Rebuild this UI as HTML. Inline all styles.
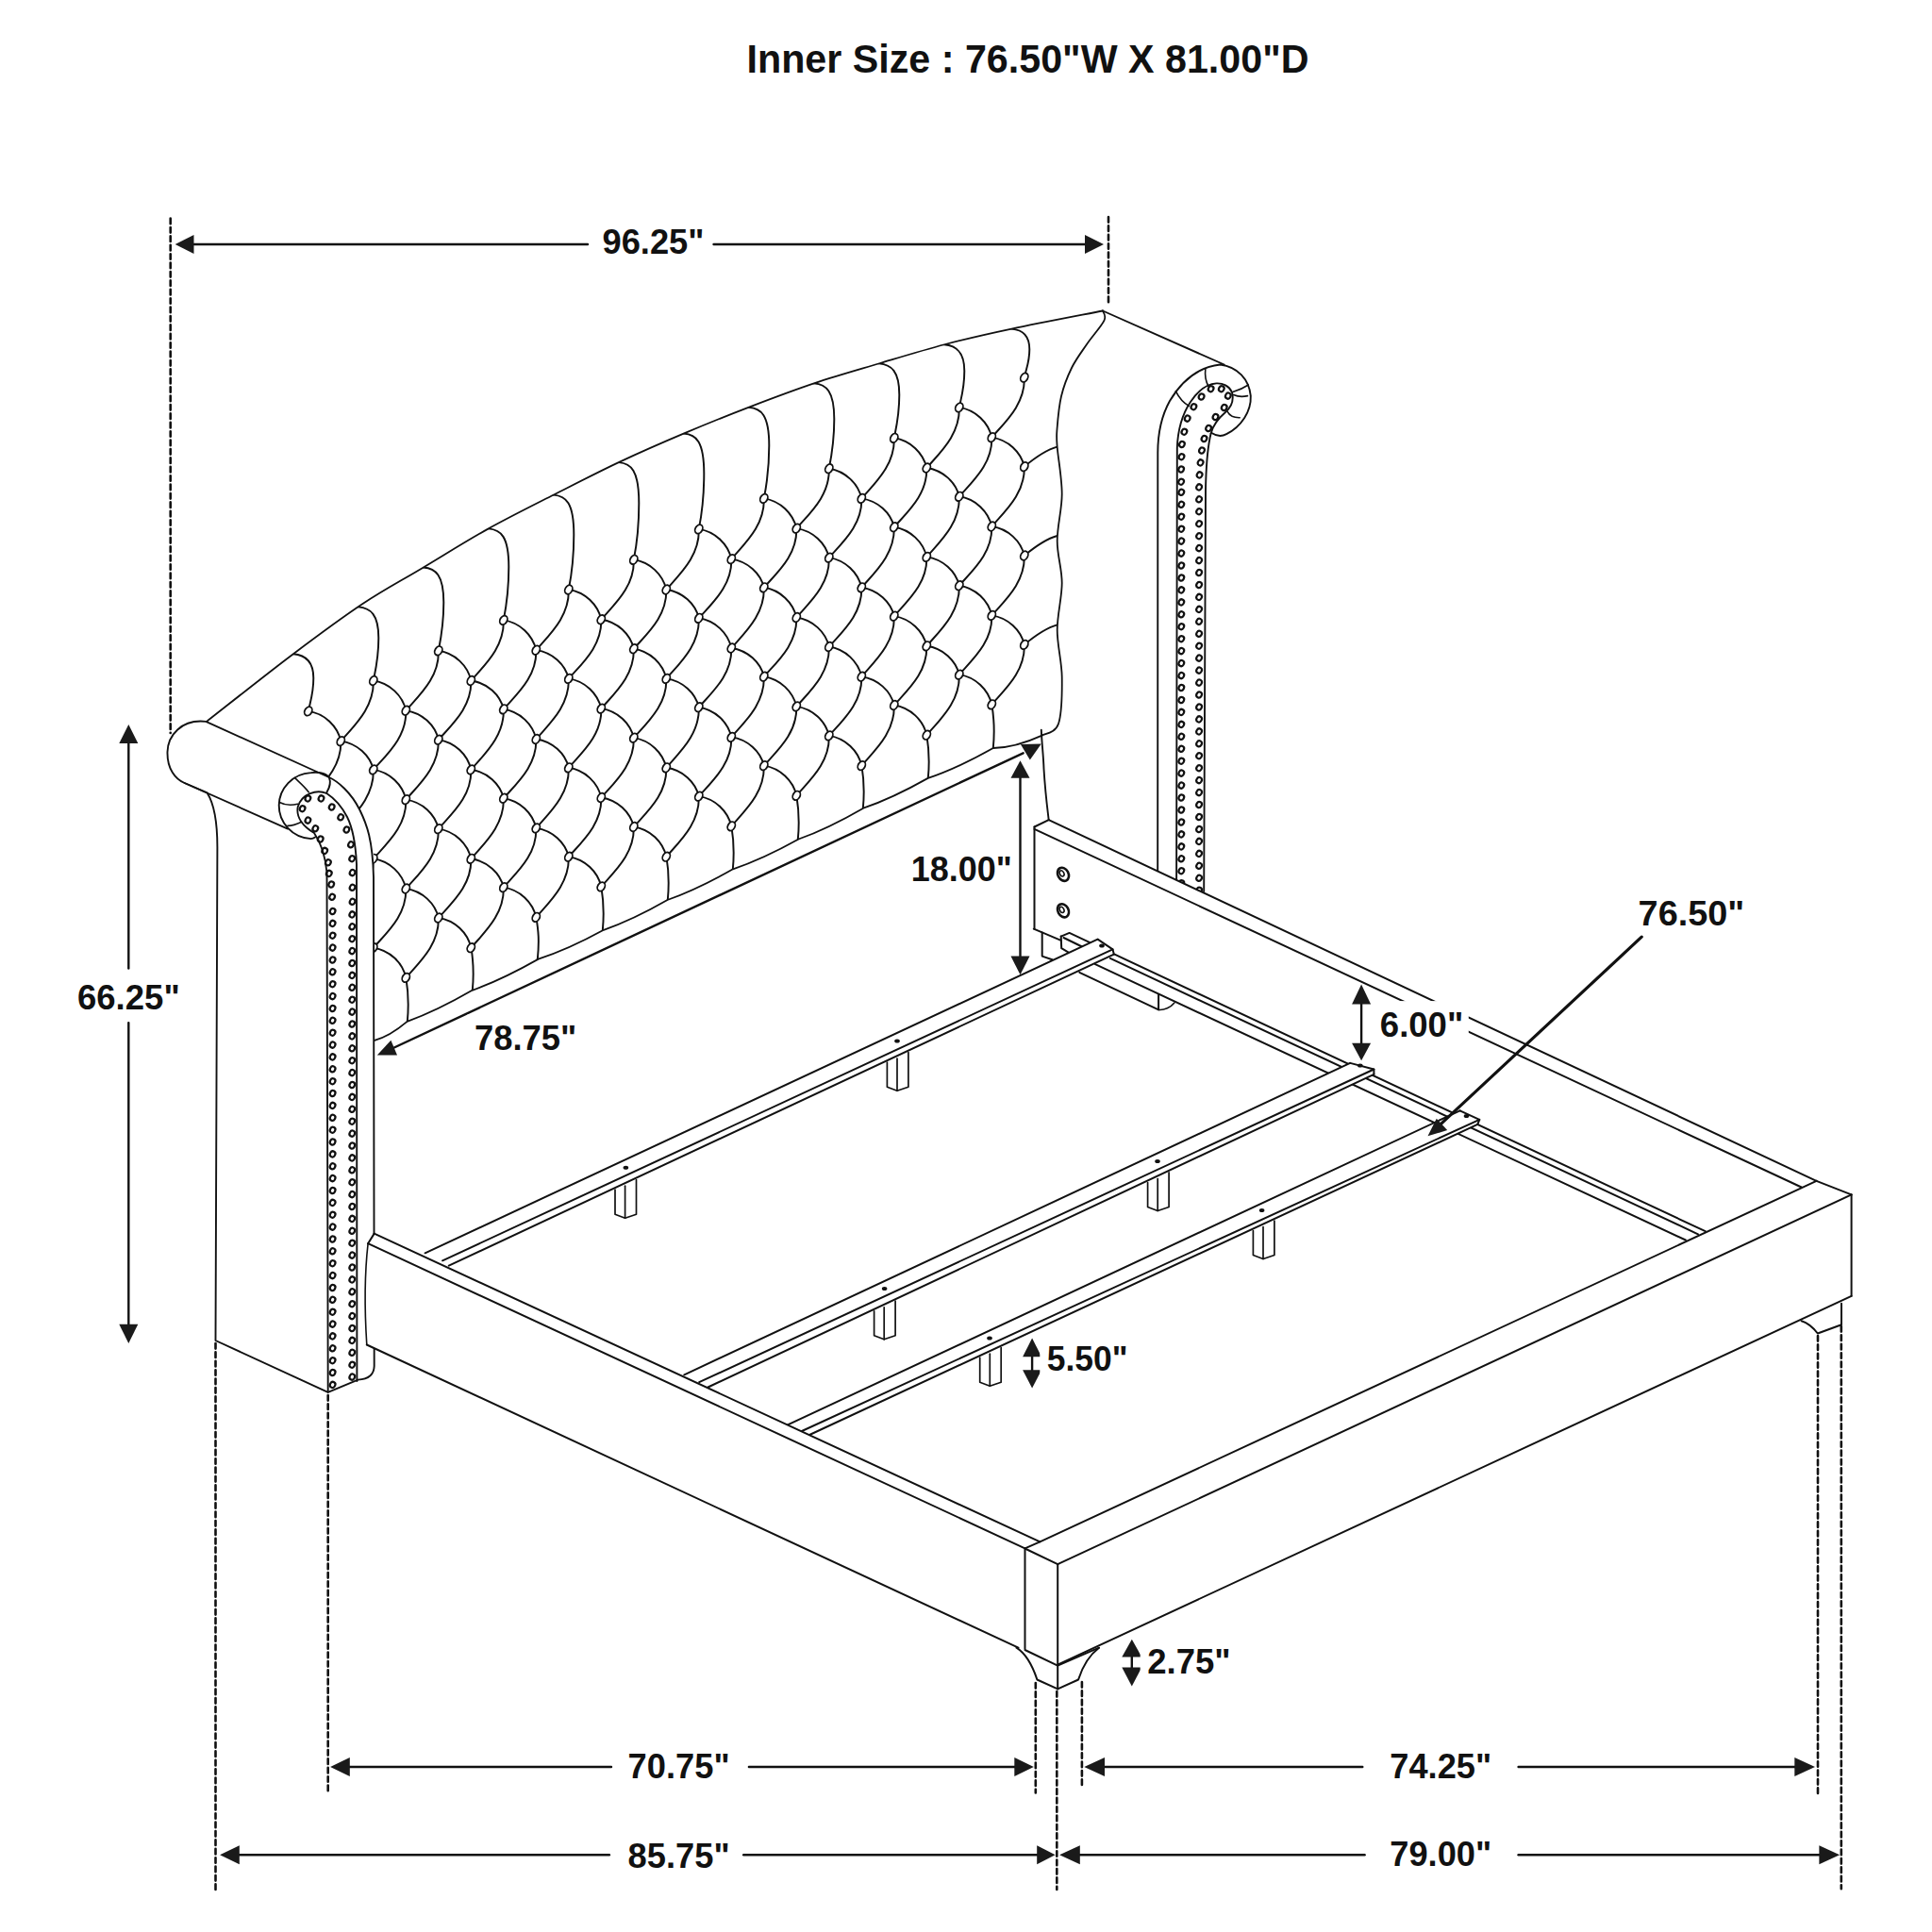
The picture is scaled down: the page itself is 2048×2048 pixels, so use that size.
<!DOCTYPE html><html><head><meta charset="utf-8"><style>html,body{margin:0;padding:0;background:#fff;width:2048px;height:2048px;overflow:hidden}svg{display:block}</style></head><body><svg width="2048" height="2048" viewBox="0 0 2048 2048" stroke-linecap="round" stroke-linejoin="round"><rect width="2048" height="2048" fill="#fff"/><clipPath id="pc"><path d="M218.5,765.2 C233.6,753.5 281.2,715.6 308.9,694.7 C336.6,673.8 361.4,655.4 384.5,640.0 C407.6,624.6 425.6,615.4 447.6,602.2 C469.6,589.1 493.1,574.1 516.5,561.1 C539.9,548.1 564.6,535.9 588.0,524.0 C611.4,512.1 633.9,500.4 656.9,489.6 C679.9,478.8 702.8,468.8 725.8,459.1 C748.8,449.4 771.7,440.1 794.7,431.3 C817.7,422.5 840.6,413.8 863.6,406.1 C886.6,398.4 909.9,391.9 933.0,385.0 C956.1,378.1 978.8,371.1 1002.0,365.0 C1025.2,358.9 1044.5,354.5 1072.3,348.6 C1100.1,342.7 1152.9,332.7 1169.0,329.5 L1170.4,339.9 L1152.0,365.0 L1136.0,390.0 L1125.0,420.0 L1120.5,455.0 L1120.7,474.0 L1125.7,523.7 L1120.7,573.4 L1125.7,618.1 L1120.7,667.8 L1125.7,717.5 L1122.0,767.2 L1104.6,779.6 L1052.8,793.0 L983.7,824.9 L915.2,856.7 L846.6,889.5 L777.0,921.3 L707.5,954.0 L639.9,985.8 L570.7,1016.6 L500.5,1049.8 L431.6,1082.9 L397.0,1102.8 L396,900 L349.5,823.2 Z"/></clipPath>
<g clip-path="url(#pc)">
<path d="M326.8,753.9 C344.1,756.4 357.9,769.8 361.3,785.6 M326.8,848.3 C344.1,850.8 357.9,864.2 361.3,880.0 M326.8,848.3 C340.6,832.6 362.3,813.8 361.3,785.6 M326.8,942.7 C344.1,945.2 357.9,958.6 361.3,974.4 M326.8,942.7 C340.6,927.0 362.3,908.2 361.3,880.0 M326.8,1037.1 C344.1,1039.6 357.9,1053.0 361.3,1068.8 M326.8,1037.1 C340.6,1021.4 362.3,1002.6 361.3,974.4 M361.3,785.6 C378.6,788.0 392.4,800.8 395.8,815.9 M361.3,785.6 C375.1,769.6 396.8,750.3 395.8,721.5 M361.3,880.0 C378.6,882.4 392.4,895.2 395.8,910.3 M361.3,880.0 C375.1,864.0 396.8,844.7 395.8,815.9 M361.3,974.4 C378.6,976.8 392.4,989.6 395.8,1004.7 M361.3,974.4 C375.1,958.4 396.8,939.1 395.8,910.3 M361.3,1068.8 C375.1,1052.8 396.8,1033.5 395.8,1004.7 M395.8,721.5 C413.1,724.0 426.9,737.4 430.3,753.2 M395.8,815.9 C413.1,818.4 426.9,831.8 430.3,847.6 M395.8,815.9 C409.6,800.2 431.3,781.4 430.3,753.2 M395.8,910.3 C413.1,912.8 426.9,926.1 430.3,942.0 M395.8,910.3 C409.6,894.6 431.3,875.8 430.3,847.6 M395.8,1004.7 C413.1,1007.2 426.9,1020.5 430.3,1036.4 M395.8,1004.7 C409.6,989.0 431.3,970.2 430.3,942.0 M430.3,753.2 C447.6,755.7 461.4,768.7 464.8,784.2 M430.3,753.2 C444.1,737.3 465.8,718.3 464.8,689.8 M430.3,847.6 C447.6,850.1 461.4,863.1 464.8,878.6 M430.3,847.6 C444.1,831.7 465.8,812.7 464.8,784.2 M430.3,942.0 C447.6,944.5 461.4,957.5 464.8,973.0 M430.3,942.0 C444.1,926.1 465.8,907.1 464.8,878.6 M430.3,1036.4 C444.1,1020.5 465.8,1001.5 464.8,973.0 M464.8,689.8 C482.1,692.3 495.9,705.6 499.3,721.5 M464.8,784.2 C482.1,786.7 495.9,800.0 499.3,815.9 M464.8,784.2 C478.6,768.5 500.3,749.7 499.3,721.5 M464.8,878.6 C482.1,881.1 495.9,894.4 499.3,910.3 M464.8,878.6 C478.6,862.9 500.3,844.1 499.3,815.9 M464.8,973.0 C482.1,975.5 495.9,988.8 499.3,1004.7 M464.8,973.0 C478.6,957.3 500.3,938.5 499.3,910.3 M499.3,721.5 C516.5,723.9 530.3,736.6 533.8,751.8 M499.3,721.5 C513.1,705.5 534.8,686.2 533.8,657.4 M499.3,815.9 C516.5,818.3 530.3,831.0 533.8,846.2 M499.3,815.9 C513.1,799.9 534.8,780.6 533.8,751.8 M499.3,910.3 C516.5,912.7 530.3,925.4 533.8,940.6 M499.3,910.3 C513.1,894.3 534.8,875.0 533.8,846.2 M499.3,1004.7 C513.1,988.7 534.8,969.4 533.8,940.6 M533.8,657.4 C551.0,659.9 564.8,673.2 568.3,689.1 M533.8,751.8 C551.0,754.3 564.8,767.6 568.3,783.5 M533.8,751.8 C547.6,736.1 569.3,717.3 568.3,689.1 M533.8,846.2 C551.0,848.7 564.8,862.0 568.3,877.9 M533.8,846.2 C547.6,830.5 569.3,811.7 568.3,783.5 M533.8,940.6 C551.0,943.1 564.8,956.4 568.3,972.3 M533.8,940.6 C547.6,924.9 569.3,906.1 568.3,877.9 M568.3,689.1 C585.5,691.5 599.3,704.2 602.8,719.4 M568.3,689.1 C582.1,673.1 603.8,653.8 602.8,625.0 M568.3,783.5 C585.5,785.9 599.3,798.6 602.8,813.8 M568.3,783.5 C582.1,767.5 603.8,748.2 602.8,719.4 M568.3,877.9 C585.5,880.3 599.3,893.0 602.8,908.2 M568.3,877.9 C582.1,861.9 603.8,842.6 602.8,813.8 M568.3,972.3 C582.1,956.3 603.8,937.0 602.8,908.2 M602.8,625.0 C620.0,627.5 633.8,640.8 637.3,656.7 M602.8,719.4 C620.0,721.9 633.8,735.2 637.3,751.1 M602.8,719.4 C616.6,703.7 638.3,684.9 637.3,656.7 M602.8,813.8 C620.0,816.3 633.8,829.6 637.3,845.5 M602.8,813.8 C616.6,798.1 638.3,779.3 637.3,751.1 M602.8,908.2 C620.0,910.7 633.8,924.0 637.3,939.9 M602.8,908.2 C616.6,892.5 638.3,873.7 637.3,845.5 M637.3,656.7 C654.5,659.1 668.3,672.2 671.8,687.7 M637.3,656.7 C651.1,640.8 672.8,621.8 671.8,593.3 M637.3,751.1 C654.5,753.5 668.3,766.6 671.8,782.1 M637.3,751.1 C651.1,735.2 672.8,716.2 671.8,687.7 M637.3,845.5 C654.5,847.9 668.3,861.0 671.8,876.5 M637.3,845.5 C651.1,829.6 672.8,810.6 671.8,782.1 M637.3,939.9 C651.1,924.0 672.8,905.0 671.8,876.5 M671.8,593.3 C689.0,595.8 702.8,609.1 706.3,625.0 M671.8,687.7 C689.0,690.2 702.8,703.5 706.3,719.4 M671.8,687.7 C685.6,672.0 707.3,653.2 706.3,625.0 M671.8,782.1 C689.0,784.6 702.8,797.9 706.3,813.8 M671.8,782.1 C685.6,766.4 707.3,747.6 706.3,719.4 M671.8,876.5 C689.0,879.0 702.8,892.3 706.3,908.2 M671.8,876.5 C685.6,860.8 707.3,842.0 706.3,813.8 M706.3,625.0 C723.5,627.4 737.3,640.1 740.8,655.3 M706.3,625.0 C720.1,608.9 741.8,589.7 740.8,560.9 M706.3,719.4 C723.5,721.8 737.3,734.5 740.8,749.7 M706.3,719.4 C720.1,703.3 741.8,684.1 740.8,655.3 M706.3,813.8 C723.5,816.2 737.3,828.9 740.8,844.1 M706.3,813.8 C720.1,797.7 741.8,778.5 740.8,749.7 M706.3,908.2 C720.1,892.1 741.8,872.9 740.8,844.1 M740.8,560.9 C758.0,563.4 771.8,576.7 775.3,592.6 M740.8,655.3 C758.0,657.8 771.8,671.1 775.3,687.0 M740.8,655.3 C754.6,639.6 776.3,620.8 775.3,592.6 M740.8,749.7 C758.0,752.2 771.8,765.5 775.3,781.4 M740.8,749.7 C754.6,734.0 776.3,715.2 775.3,687.0 M740.8,844.1 C758.0,846.6 771.8,859.9 775.3,875.8 M740.8,844.1 C754.6,828.4 776.3,809.6 775.3,781.4 M775.3,592.6 C792.5,595.0 806.3,607.7 809.8,622.8 M775.3,592.6 C789.1,576.5 810.8,557.3 809.8,528.4 M775.3,687.0 C792.5,689.4 806.3,702.1 809.8,717.2 M775.3,687.0 C789.1,670.9 810.8,651.7 809.8,622.8 M775.3,781.4 C792.5,783.8 806.3,796.5 809.8,811.6 M775.3,781.4 C789.1,765.3 810.8,746.1 809.8,717.2 M775.3,875.8 C789.1,859.7 810.8,840.5 809.8,811.6 M809.8,528.4 C827.0,531.0 840.8,544.3 844.3,560.1 M809.8,622.8 C827.0,625.4 840.8,638.7 844.3,654.5 M809.8,622.8 C823.6,607.2 845.3,588.4 844.3,560.1 M809.8,717.2 C827.0,719.8 840.8,733.1 844.3,748.9 M809.8,717.2 C823.6,701.6 845.3,682.8 844.3,654.5 M809.8,811.6 C827.0,814.2 840.8,827.5 844.3,843.3 M809.8,811.6 C823.6,796.0 845.3,777.2 844.3,748.9 M844.3,560.1 C861.5,562.6 875.3,575.6 878.8,591.1 M844.3,560.1 C858.1,544.3 879.8,525.3 878.8,496.7 M844.3,654.5 C861.5,657.0 875.3,670.0 878.8,685.5 M844.3,654.5 C858.1,638.7 879.8,619.7 878.8,591.1 M844.3,748.9 C861.5,751.4 875.3,764.4 878.8,779.9 M844.3,748.9 C858.1,733.1 879.8,714.1 878.8,685.5 M844.3,843.3 C858.1,827.5 879.8,808.5 878.8,779.9 M878.8,496.7 C896.0,499.3 909.8,512.6 913.3,528.4 M878.8,591.1 C896.0,593.7 909.8,607.0 913.3,622.8 M878.8,591.1 C892.6,575.5 914.3,556.6 913.3,528.4 M878.8,685.5 C896.0,688.1 909.8,701.4 913.3,717.2 M878.8,685.5 C892.6,669.9 914.3,651.0 913.3,622.8 M878.8,779.9 C896.0,782.5 909.8,795.8 913.3,811.6 M878.8,779.9 C892.6,764.3 914.3,745.4 913.3,717.2 M913.3,528.4 C930.5,530.9 944.3,543.6 947.8,558.7 M913.3,528.4 C927.1,512.4 948.8,493.2 947.8,464.3 M913.3,622.8 C930.5,625.3 944.3,638.0 947.8,653.1 M913.3,622.8 C927.1,606.8 948.8,587.6 947.8,558.7 M913.3,717.2 C930.5,719.7 944.3,732.4 947.8,747.5 M913.3,717.2 C927.1,701.2 948.8,682.0 947.8,653.1 M913.3,811.6 C927.1,795.6 948.8,776.4 947.8,747.5 M947.8,464.3 C965.0,466.9 978.8,480.2 982.3,496.0 M947.8,558.7 C965.0,561.3 978.8,574.6 982.3,590.4 M947.8,558.7 C961.6,543.0 983.3,524.2 982.3,496.0 M947.8,653.1 C965.0,655.7 978.8,669.0 982.3,684.8 M947.8,653.1 C961.6,637.4 983.3,618.6 982.3,590.4 M947.8,747.5 C965.0,750.1 978.8,763.4 982.3,779.2 M947.8,747.5 C961.6,731.8 983.3,713.0 982.3,684.8 M982.3,496.0 C999.5,498.4 1013.3,511.2 1016.8,526.3 M982.3,496.0 C996.1,480.0 1017.8,460.8 1016.8,431.9 M982.3,590.4 C999.5,592.8 1013.3,605.6 1016.8,620.7 M982.3,590.4 C996.1,574.4 1017.8,555.2 1016.8,526.3 M982.3,684.8 C999.5,687.2 1013.3,700.0 1016.8,715.1 M982.3,684.8 C996.1,668.8 1017.8,649.6 1016.8,620.7 M982.3,779.2 C996.1,763.2 1017.8,744.0 1016.8,715.1 M1016.8,431.9 C1034.0,434.4 1047.8,447.8 1051.3,463.6 M1016.8,526.3 C1034.0,528.8 1047.8,542.2 1051.3,558.0 M1016.8,526.3 C1030.6,510.6 1052.3,491.8 1051.3,463.6 M1016.8,620.7 C1034.0,623.2 1047.8,636.6 1051.3,652.4 M1016.8,620.7 C1030.6,605.0 1052.3,586.2 1051.3,558.0 M1016.8,715.1 C1034.0,717.6 1047.8,731.0 1051.3,746.8 M1016.8,715.1 C1030.6,699.4 1052.3,680.6 1051.3,652.4 M1051.3,463.6 C1068.5,466.1 1082.3,479.1 1085.8,494.6 M1051.3,463.6 C1065.1,447.8 1086.8,428.7 1085.8,400.2 M1051.3,558.0 C1068.5,560.5 1082.3,573.5 1085.8,589.0 M1051.3,558.0 C1065.1,542.2 1086.8,523.1 1085.8,494.6 M1051.3,652.4 C1068.5,654.9 1082.3,667.9 1085.8,683.4 M1051.3,652.4 C1065.1,636.6 1086.8,617.5 1085.8,589.0 M1051.3,746.8 C1065.1,731.0 1086.8,711.9 1085.8,683.4 M1085.8,494.6 C1097.8,484.6 1109.8,476.6 1120.7,473.6 M1085.8,589.0 C1097.8,579.0 1109.8,571.0 1120.7,568.0 M1085.8,683.4 C1097.8,673.4 1109.8,665.4 1120.7,662.4 M310.8,693.3 C323.8,694.3 332.3,701.3 332.3,718.8 C332.3,735.7 328.8,743.9 326.8,753.9 M379.8,643.4 C392.8,644.4 401.3,651.4 401.3,676.2 C401.3,698.1 397.8,711.5 395.8,721.5 M448.8,601.5 C461.8,602.5 470.3,609.5 470.3,638.6 C470.3,663.3 466.8,679.8 464.8,689.8 M517.8,560.4 C530.8,561.4 539.3,568.4 539.3,601.1 C539.3,628.3 535.8,647.4 533.8,657.4 M586.8,524.6 C599.8,525.6 608.3,532.6 608.3,566.8 C608.3,594.9 604.8,615.0 602.8,625.0 M655.8,490.1 C668.8,491.1 677.3,498.1 677.3,533.5 C677.3,562.3 673.8,583.3 671.8,593.3 M724.8,459.5 C737.8,460.5 746.3,467.5 746.3,502.1 C746.3,530.5 742.8,550.9 740.8,560.9 M793.8,431.7 C806.8,432.7 815.3,439.7 815.3,472.3 C815.3,499.4 811.8,518.4 809.8,528.4 M862.8,406.4 C875.8,407.4 884.3,414.4 884.3,444.3 C884.3,469.6 880.8,486.7 878.8,496.7 M931.8,385.4 C944.8,386.4 953.3,393.4 953.3,418.5 C953.3,440.6 949.8,454.3 947.8,464.3 M1000.8,365.3 C1013.8,366.3 1022.3,373.3 1022.3,393.3 C1022.3,411.9 1018.8,421.9 1016.8,431.9 M1072.3,348.6 C1085.3,349.6 1091.3,356.6 1091.3,370.3 C1091.3,384.7 1087.8,390.2 1085.8,400.2 M361.3,1068.5 C363.8,1083.5 364.8,1082.8 362.8,1102.8 M430.3,1036.0 C432.8,1051.0 433.8,1062.8 431.8,1082.8 M499.3,1003.6 C501.8,1018.6 502.8,1029.7 500.8,1049.7 M568.3,971.9 C570.8,986.9 571.8,997.0 569.8,1017.0 M637.3,939.5 C639.8,954.5 640.8,966.3 638.8,986.3 M706.3,907.1 C708.8,922.1 709.8,933.9 707.8,953.9 M775.3,875.4 C777.8,890.4 778.8,901.4 776.8,921.4 M844.3,843.0 C846.8,858.0 847.8,869.9 845.8,889.9 M913.3,810.6 C915.8,825.6 916.8,836.9 914.8,856.9 M982.3,778.9 C984.8,793.9 985.8,804.9 983.8,824.9 M1051.3,746.5 C1053.8,761.5 1054.8,773.0 1052.8,793.0" fill="none" stroke="#111" stroke-width="1.95"/>
<g fill="#fff" stroke="#111" stroke-width="1.8"><ellipse cx="326.8" cy="753.9" rx="3.7" ry="5.0" transform="rotate(30 326.8 753.9)"/><ellipse cx="326.8" cy="848.3" rx="3.7" ry="5.0" transform="rotate(30 326.8 848.3)"/><ellipse cx="326.8" cy="942.7" rx="3.7" ry="5.0" transform="rotate(30 326.8 942.7)"/><ellipse cx="326.8" cy="1037.1" rx="3.7" ry="5.0" transform="rotate(30 326.8 1037.1)"/><ellipse cx="361.3" cy="785.6" rx="3.7" ry="5.0" transform="rotate(30 361.3 785.6)"/><ellipse cx="361.3" cy="880.0" rx="3.7" ry="5.0" transform="rotate(30 361.3 880.0)"/><ellipse cx="361.3" cy="974.4" rx="3.7" ry="5.0" transform="rotate(30 361.3 974.4)"/><ellipse cx="361.3" cy="1068.8" rx="3.7" ry="5.0" transform="rotate(30 361.3 1068.8)"/><ellipse cx="395.8" cy="721.5" rx="3.7" ry="5.0" transform="rotate(30 395.8 721.5)"/><ellipse cx="395.8" cy="815.9" rx="3.7" ry="5.0" transform="rotate(30 395.8 815.9)"/><ellipse cx="395.8" cy="910.3" rx="3.7" ry="5.0" transform="rotate(30 395.8 910.3)"/><ellipse cx="395.8" cy="1004.7" rx="3.7" ry="5.0" transform="rotate(30 395.8 1004.7)"/><ellipse cx="430.3" cy="753.2" rx="3.7" ry="5.0" transform="rotate(30 430.3 753.2)"/><ellipse cx="430.3" cy="847.6" rx="3.7" ry="5.0" transform="rotate(30 430.3 847.6)"/><ellipse cx="430.3" cy="942.0" rx="3.7" ry="5.0" transform="rotate(30 430.3 942.0)"/><ellipse cx="430.3" cy="1036.4" rx="3.7" ry="5.0" transform="rotate(30 430.3 1036.4)"/><ellipse cx="464.8" cy="689.8" rx="3.7" ry="5.0" transform="rotate(30 464.8 689.8)"/><ellipse cx="464.8" cy="784.2" rx="3.7" ry="5.0" transform="rotate(30 464.8 784.2)"/><ellipse cx="464.8" cy="878.6" rx="3.7" ry="5.0" transform="rotate(30 464.8 878.6)"/><ellipse cx="464.8" cy="973.0" rx="3.7" ry="5.0" transform="rotate(30 464.8 973.0)"/><ellipse cx="499.3" cy="721.5" rx="3.7" ry="5.0" transform="rotate(30 499.3 721.5)"/><ellipse cx="499.3" cy="815.9" rx="3.7" ry="5.0" transform="rotate(30 499.3 815.9)"/><ellipse cx="499.3" cy="910.3" rx="3.7" ry="5.0" transform="rotate(30 499.3 910.3)"/><ellipse cx="499.3" cy="1004.7" rx="3.7" ry="5.0" transform="rotate(30 499.3 1004.7)"/><ellipse cx="533.8" cy="657.4" rx="3.7" ry="5.0" transform="rotate(30 533.8 657.4)"/><ellipse cx="533.8" cy="751.8" rx="3.7" ry="5.0" transform="rotate(30 533.8 751.8)"/><ellipse cx="533.8" cy="846.2" rx="3.7" ry="5.0" transform="rotate(30 533.8 846.2)"/><ellipse cx="533.8" cy="940.6" rx="3.7" ry="5.0" transform="rotate(30 533.8 940.6)"/><ellipse cx="568.3" cy="689.1" rx="3.7" ry="5.0" transform="rotate(30 568.3 689.1)"/><ellipse cx="568.3" cy="783.5" rx="3.7" ry="5.0" transform="rotate(30 568.3 783.5)"/><ellipse cx="568.3" cy="877.9" rx="3.7" ry="5.0" transform="rotate(30 568.3 877.9)"/><ellipse cx="568.3" cy="972.3" rx="3.7" ry="5.0" transform="rotate(30 568.3 972.3)"/><ellipse cx="602.8" cy="625.0" rx="3.7" ry="5.0" transform="rotate(30 602.8 625.0)"/><ellipse cx="602.8" cy="719.4" rx="3.7" ry="5.0" transform="rotate(30 602.8 719.4)"/><ellipse cx="602.8" cy="813.8" rx="3.7" ry="5.0" transform="rotate(30 602.8 813.8)"/><ellipse cx="602.8" cy="908.2" rx="3.7" ry="5.0" transform="rotate(30 602.8 908.2)"/><ellipse cx="637.3" cy="656.7" rx="3.7" ry="5.0" transform="rotate(30 637.3 656.7)"/><ellipse cx="637.3" cy="751.1" rx="3.7" ry="5.0" transform="rotate(30 637.3 751.1)"/><ellipse cx="637.3" cy="845.5" rx="3.7" ry="5.0" transform="rotate(30 637.3 845.5)"/><ellipse cx="637.3" cy="939.9" rx="3.7" ry="5.0" transform="rotate(30 637.3 939.9)"/><ellipse cx="671.8" cy="593.3" rx="3.7" ry="5.0" transform="rotate(30 671.8 593.3)"/><ellipse cx="671.8" cy="687.7" rx="3.7" ry="5.0" transform="rotate(30 671.8 687.7)"/><ellipse cx="671.8" cy="782.1" rx="3.7" ry="5.0" transform="rotate(30 671.8 782.1)"/><ellipse cx="671.8" cy="876.5" rx="3.7" ry="5.0" transform="rotate(30 671.8 876.5)"/><ellipse cx="706.3" cy="625.0" rx="3.7" ry="5.0" transform="rotate(30 706.3 625.0)"/><ellipse cx="706.3" cy="719.4" rx="3.7" ry="5.0" transform="rotate(30 706.3 719.4)"/><ellipse cx="706.3" cy="813.8" rx="3.7" ry="5.0" transform="rotate(30 706.3 813.8)"/><ellipse cx="706.3" cy="908.2" rx="3.7" ry="5.0" transform="rotate(30 706.3 908.2)"/><ellipse cx="740.8" cy="560.9" rx="3.7" ry="5.0" transform="rotate(30 740.8 560.9)"/><ellipse cx="740.8" cy="655.3" rx="3.7" ry="5.0" transform="rotate(30 740.8 655.3)"/><ellipse cx="740.8" cy="749.7" rx="3.7" ry="5.0" transform="rotate(30 740.8 749.7)"/><ellipse cx="740.8" cy="844.1" rx="3.7" ry="5.0" transform="rotate(30 740.8 844.1)"/><ellipse cx="775.3" cy="592.6" rx="3.7" ry="5.0" transform="rotate(30 775.3 592.6)"/><ellipse cx="775.3" cy="687.0" rx="3.7" ry="5.0" transform="rotate(30 775.3 687.0)"/><ellipse cx="775.3" cy="781.4" rx="3.7" ry="5.0" transform="rotate(30 775.3 781.4)"/><ellipse cx="775.3" cy="875.8" rx="3.7" ry="5.0" transform="rotate(30 775.3 875.8)"/><ellipse cx="809.8" cy="528.4" rx="3.7" ry="5.0" transform="rotate(30 809.8 528.4)"/><ellipse cx="809.8" cy="622.8" rx="3.7" ry="5.0" transform="rotate(30 809.8 622.8)"/><ellipse cx="809.8" cy="717.2" rx="3.7" ry="5.0" transform="rotate(30 809.8 717.2)"/><ellipse cx="809.8" cy="811.6" rx="3.7" ry="5.0" transform="rotate(30 809.8 811.6)"/><ellipse cx="844.3" cy="560.1" rx="3.7" ry="5.0" transform="rotate(30 844.3 560.1)"/><ellipse cx="844.3" cy="654.5" rx="3.7" ry="5.0" transform="rotate(30 844.3 654.5)"/><ellipse cx="844.3" cy="748.9" rx="3.7" ry="5.0" transform="rotate(30 844.3 748.9)"/><ellipse cx="844.3" cy="843.3" rx="3.7" ry="5.0" transform="rotate(30 844.3 843.3)"/><ellipse cx="878.8" cy="496.7" rx="3.7" ry="5.0" transform="rotate(30 878.8 496.7)"/><ellipse cx="878.8" cy="591.1" rx="3.7" ry="5.0" transform="rotate(30 878.8 591.1)"/><ellipse cx="878.8" cy="685.5" rx="3.7" ry="5.0" transform="rotate(30 878.8 685.5)"/><ellipse cx="878.8" cy="779.9" rx="3.7" ry="5.0" transform="rotate(30 878.8 779.9)"/><ellipse cx="913.3" cy="528.4" rx="3.7" ry="5.0" transform="rotate(30 913.3 528.4)"/><ellipse cx="913.3" cy="622.8" rx="3.7" ry="5.0" transform="rotate(30 913.3 622.8)"/><ellipse cx="913.3" cy="717.2" rx="3.7" ry="5.0" transform="rotate(30 913.3 717.2)"/><ellipse cx="913.3" cy="811.6" rx="3.7" ry="5.0" transform="rotate(30 913.3 811.6)"/><ellipse cx="947.8" cy="464.3" rx="3.7" ry="5.0" transform="rotate(30 947.8 464.3)"/><ellipse cx="947.8" cy="558.7" rx="3.7" ry="5.0" transform="rotate(30 947.8 558.7)"/><ellipse cx="947.8" cy="653.1" rx="3.7" ry="5.0" transform="rotate(30 947.8 653.1)"/><ellipse cx="947.8" cy="747.5" rx="3.7" ry="5.0" transform="rotate(30 947.8 747.5)"/><ellipse cx="982.3" cy="496.0" rx="3.7" ry="5.0" transform="rotate(30 982.3 496.0)"/><ellipse cx="982.3" cy="590.4" rx="3.7" ry="5.0" transform="rotate(30 982.3 590.4)"/><ellipse cx="982.3" cy="684.8" rx="3.7" ry="5.0" transform="rotate(30 982.3 684.8)"/><ellipse cx="982.3" cy="779.2" rx="3.7" ry="5.0" transform="rotate(30 982.3 779.2)"/><ellipse cx="1016.8" cy="431.9" rx="3.7" ry="5.0" transform="rotate(30 1016.8 431.9)"/><ellipse cx="1016.8" cy="526.3" rx="3.7" ry="5.0" transform="rotate(30 1016.8 526.3)"/><ellipse cx="1016.8" cy="620.7" rx="3.7" ry="5.0" transform="rotate(30 1016.8 620.7)"/><ellipse cx="1016.8" cy="715.1" rx="3.7" ry="5.0" transform="rotate(30 1016.8 715.1)"/><ellipse cx="1051.3" cy="463.6" rx="3.7" ry="5.0" transform="rotate(30 1051.3 463.6)"/><ellipse cx="1051.3" cy="558.0" rx="3.7" ry="5.0" transform="rotate(30 1051.3 558.0)"/><ellipse cx="1051.3" cy="652.4" rx="3.7" ry="5.0" transform="rotate(30 1051.3 652.4)"/><ellipse cx="1051.3" cy="746.8" rx="3.7" ry="5.0" transform="rotate(30 1051.3 746.8)"/><ellipse cx="1085.8" cy="400.2" rx="3.7" ry="5.0" transform="rotate(30 1085.8 400.2)"/><ellipse cx="1085.8" cy="494.6" rx="3.7" ry="5.0" transform="rotate(30 1085.8 494.6)"/><ellipse cx="1085.8" cy="589.0" rx="3.7" ry="5.0" transform="rotate(30 1085.8 589.0)"/><ellipse cx="1085.8" cy="683.4" rx="3.7" ry="5.0" transform="rotate(30 1085.8 683.4)"/></g>
</g>
<path d="M218.5,765.2 C233.6,753.5 281.2,715.6 308.9,694.7 C336.6,673.8 361.4,655.4 384.5,640.0 C407.6,624.6 425.6,615.4 447.6,602.2 C469.6,589.1 493.1,574.1 516.5,561.1 C539.9,548.1 564.6,535.9 588.0,524.0 C611.4,512.1 633.9,500.4 656.9,489.6 C679.9,478.8 702.8,468.8 725.8,459.1 C748.8,449.4 771.7,440.1 794.7,431.3 C817.7,422.5 840.6,413.8 863.6,406.1 C886.6,398.4 909.9,391.9 933.0,385.0 C956.1,378.1 978.8,371.1 1002.0,365.0 C1025.2,358.9 1044.5,354.5 1072.3,348.6 C1100.1,342.7 1152.9,332.7 1169.0,329.5" fill="none" stroke="#111" stroke-width="1.8" />
<path d="M1169.0,329.5 C1169.2,331.2 1173.2,334.0 1170.4,339.9 C1167.6,345.8 1157.7,356.6 1152.0,365.0 C1146.3,373.4 1140.5,380.8 1136.0,390.0 C1131.5,399.2 1127.6,409.2 1125.0,420.0 C1122.4,430.8 1121.2,446.0 1120.5,455.0 C1119.8,464.0 1119.8,462.6 1120.7,474.0 C1121.6,485.4 1125.7,507.1 1125.7,523.7 C1125.7,540.3 1120.7,557.7 1120.7,573.4 C1120.7,589.1 1125.7,602.4 1125.7,618.1 C1125.7,633.8 1120.7,651.2 1120.7,667.8 C1120.7,684.4 1125.5,700.9 1125.7,717.5 C1125.9,734.1 1125.5,756.9 1122.0,767.2 C1118.5,777.6 1107.5,777.5 1104.6,779.6" fill="none" stroke="#111" stroke-width="1.8" />
<path d="M397,1102.8 Q412.6,1098.9 431.6,1082.9 Q462.6,1071.7 500.5,1049.8 Q532.1,1038.5 570.7,1016.6 Q601.8,1006.7 639.9,985.8 Q670.3,975.3 707.5,954.0 Q738.8,943.0 777.0,921.3 Q808.3,910.8 846.6,889.5 Q877.5,878.5 915.2,856.7 Q946.0,846.2 983.7,824.9 Q1014.8,814.4 1052.8,793.0 Q1076.1,792.6 1104.6,779.6" fill="none" stroke="#111" stroke-width="1.8" />
<path d="M1169,329.5 L1297.7,386.5 C1312,389 1324,402 1325.8,419.6 C1326,436 1316,452 1300.1,460.2 C1293,463 1288,461 1283.6,459.4 L1276.2,946 L1227.2,921.5 L1227.3,476 C1228,450 1236,425 1252,409 C1262,398 1275,391 1293.5,386.5" fill="#fff" stroke="#111" stroke-width="0" />
<path d="M1169,329.5 L1297.7,386.5" fill="none" stroke="#111" stroke-width="1.9" />
<path d="M1293.5,386.5 C1312,389 1324,402 1325.8,419.6 C1326.5,436 1316,452 1300.1,460.2 C1294,463.5 1289,462 1284.5,459" fill="none" stroke="#111" stroke-width="1.9" />
<path d="M1293.5,386.5 C1270,389 1252,405 1240,425 C1230,443 1227.3,460 1227.3,480 L1227.2,925" fill="none" stroke="#111" stroke-width="1.9" />
<path d="M1283.6,459.4 C1286,450 1292,443 1299,437 C1306,431 1308,424 1306,416 C1303,409 1296,406 1289.4,406.4 C1280,407 1270,414 1262,426 C1254,438 1248.5,455 1247.8,475 L1247.1,945" fill="none" stroke="#111" stroke-width="1.9" />
<path d="M1283.6,459.4 C1281,470 1278.5,490 1278,520 L1276.2,945" fill="none" stroke="#111" stroke-width="1.9" />
<path d="M1277.8,391.5 C1277,398 1278,404 1281.1,409.7" fill="none" stroke="#111" stroke-width="1.6" />
<path d="M1246.3,414.7 C1250,422 1254,427 1260.4,430.4" fill="none" stroke="#111" stroke-width="1.6" />
<path d="M1306.8,415.5 C1312,414 1318,411.5 1323.3,408" fill="none" stroke="#111" stroke-width="1.6" />
<path d="M1307.6,418.5 C1312,420.5 1317,421 1322.5,419.6" fill="none" stroke="#111" stroke-width="1.6" />
<path d="M1301,436.2 C1303,440 1308,443 1314.2,442.8" fill="none" stroke="#111" stroke-width="1.6" />
<g fill="none" stroke="#111" stroke-width="2.2"><ellipse cx="1283.6" cy="412.2" rx="2.7" ry="3.1" transform="rotate(30 1283.6 412.2)"/><ellipse cx="1273.6" cy="420.5" rx="2.7" ry="3.1" transform="rotate(30 1273.6 420.5)"/><ellipse cx="1265.4" cy="431.2" rx="2.7" ry="3.1" transform="rotate(30 1265.4 431.2)"/><ellipse cx="1258.7" cy="443.6" rx="2.7" ry="3.1" transform="rotate(30 1258.7 443.6)"/><ellipse cx="1255.4" cy="457.7" rx="2.7" ry="3.1" transform="rotate(30 1255.4 457.7)"/><ellipse cx="1252.9" cy="471.0" rx="2.7" ry="3.1" transform="rotate(30 1252.9 471.0)"/><ellipse cx="1252.5" cy="484.2" rx="2.7" ry="3.1" transform="rotate(30 1252.5 484.2)"/><ellipse cx="1252.1" cy="497.5" rx="2.7" ry="3.1" transform="rotate(30 1252.1 497.5)"/><ellipse cx="1252.1" cy="510.7" rx="2.7" ry="3.1" transform="rotate(30 1252.1 510.7)"/><ellipse cx="1252.3" cy="521.8" rx="2.7" ry="3.1" transform="rotate(30 1252.3 521.8)"/><ellipse cx="1252.3" cy="534.8" rx="2.7" ry="3.1" transform="rotate(30 1252.3 534.8)"/><ellipse cx="1252.3" cy="547.7" rx="2.7" ry="3.1" transform="rotate(30 1252.3 547.7)"/><ellipse cx="1252.3" cy="560.7" rx="2.7" ry="3.1" transform="rotate(30 1252.3 560.7)"/><ellipse cx="1252.3" cy="573.6" rx="2.7" ry="3.1" transform="rotate(30 1252.3 573.6)"/><ellipse cx="1252.3" cy="586.6" rx="2.7" ry="3.1" transform="rotate(30 1252.3 586.6)"/><ellipse cx="1252.3" cy="599.5" rx="2.7" ry="3.1" transform="rotate(30 1252.3 599.5)"/><ellipse cx="1252.3" cy="612.5" rx="2.7" ry="3.1" transform="rotate(30 1252.3 612.5)"/><ellipse cx="1252.3" cy="625.4" rx="2.7" ry="3.1" transform="rotate(30 1252.3 625.4)"/><ellipse cx="1252.3" cy="638.4" rx="2.7" ry="3.1" transform="rotate(30 1252.3 638.4)"/><ellipse cx="1252.3" cy="651.3" rx="2.7" ry="3.1" transform="rotate(30 1252.3 651.3)"/><ellipse cx="1252.3" cy="664.2" rx="2.7" ry="3.1" transform="rotate(30 1252.3 664.2)"/><ellipse cx="1252.3" cy="677.2" rx="2.7" ry="3.1" transform="rotate(30 1252.3 677.2)"/><ellipse cx="1252.3" cy="690.1" rx="2.7" ry="3.1" transform="rotate(30 1252.3 690.1)"/><ellipse cx="1252.3" cy="703.1" rx="2.7" ry="3.1" transform="rotate(30 1252.3 703.1)"/><ellipse cx="1252.3" cy="716.1" rx="2.7" ry="3.1" transform="rotate(30 1252.3 716.1)"/><ellipse cx="1252.3" cy="729.0" rx="2.7" ry="3.1" transform="rotate(30 1252.3 729.0)"/><ellipse cx="1252.3" cy="742.0" rx="2.7" ry="3.1" transform="rotate(30 1252.3 742.0)"/><ellipse cx="1252.3" cy="754.9" rx="2.7" ry="3.1" transform="rotate(30 1252.3 754.9)"/><ellipse cx="1252.3" cy="767.9" rx="2.7" ry="3.1" transform="rotate(30 1252.3 767.9)"/><ellipse cx="1252.3" cy="780.8" rx="2.7" ry="3.1" transform="rotate(30 1252.3 780.8)"/><ellipse cx="1252.3" cy="793.8" rx="2.7" ry="3.1" transform="rotate(30 1252.3 793.8)"/><ellipse cx="1252.3" cy="806.7" rx="2.7" ry="3.1" transform="rotate(30 1252.3 806.7)"/><ellipse cx="1252.3" cy="819.6" rx="2.7" ry="3.1" transform="rotate(30 1252.3 819.6)"/><ellipse cx="1252.3" cy="832.6" rx="2.7" ry="3.1" transform="rotate(30 1252.3 832.6)"/><ellipse cx="1252.3" cy="845.5" rx="2.7" ry="3.1" transform="rotate(30 1252.3 845.5)"/><ellipse cx="1252.3" cy="858.5" rx="2.7" ry="3.1" transform="rotate(30 1252.3 858.5)"/><ellipse cx="1252.3" cy="871.5" rx="2.7" ry="3.1" transform="rotate(30 1252.3 871.5)"/><ellipse cx="1252.3" cy="884.4" rx="2.7" ry="3.1" transform="rotate(30 1252.3 884.4)"/><ellipse cx="1252.3" cy="897.4" rx="2.7" ry="3.1" transform="rotate(30 1252.3 897.4)"/><ellipse cx="1252.3" cy="910.3" rx="2.7" ry="3.1" transform="rotate(30 1252.3 910.3)"/><ellipse cx="1252.3" cy="923.2" rx="2.7" ry="3.1" transform="rotate(30 1252.3 923.2)"/><ellipse cx="1252.3" cy="936.2" rx="2.7" ry="3.1" transform="rotate(30 1252.3 936.2)"/><ellipse cx="1294.8" cy="412.2" rx="2.7" ry="3.1" transform="rotate(30 1294.8 412.2)"/><ellipse cx="1301.8" cy="419.6" rx="2.7" ry="3.1" transform="rotate(30 1301.8 419.6)"/><ellipse cx="1297.7" cy="432.0" rx="2.7" ry="3.1" transform="rotate(30 1297.7 432.0)"/><ellipse cx="1288.5" cy="442.0" rx="2.7" ry="3.1" transform="rotate(30 1288.5 442.0)"/><ellipse cx="1281.1" cy="454.0" rx="2.7" ry="3.1" transform="rotate(30 1281.1 454.0)"/><ellipse cx="1276.5" cy="465.0" rx="2.7" ry="3.1" transform="rotate(30 1276.5 465.0)"/><ellipse cx="1274.0" cy="477.5" rx="2.7" ry="3.1" transform="rotate(30 1274.0 477.5)"/><ellipse cx="1272.6" cy="490.4" rx="2.7" ry="3.1" transform="rotate(30 1272.6 490.4)"/><ellipse cx="1271.6" cy="503.4" rx="2.7" ry="3.1" transform="rotate(30 1271.6 503.4)"/><ellipse cx="1271.1" cy="516.4" rx="2.7" ry="3.1" transform="rotate(30 1271.1 516.4)"/><ellipse cx="1271.1" cy="529.3" rx="2.7" ry="3.1" transform="rotate(30 1271.1 529.3)"/><ellipse cx="1271.1" cy="542.2" rx="2.7" ry="3.1" transform="rotate(30 1271.1 542.2)"/><ellipse cx="1271.1" cy="555.2" rx="2.7" ry="3.1" transform="rotate(30 1271.1 555.2)"/><ellipse cx="1271.1" cy="568.2" rx="2.7" ry="3.1" transform="rotate(30 1271.1 568.2)"/><ellipse cx="1271.1" cy="581.1" rx="2.7" ry="3.1" transform="rotate(30 1271.1 581.1)"/><ellipse cx="1271.1" cy="594.1" rx="2.7" ry="3.1" transform="rotate(30 1271.1 594.1)"/><ellipse cx="1271.1" cy="607.0" rx="2.7" ry="3.1" transform="rotate(30 1271.1 607.0)"/><ellipse cx="1271.1" cy="620.0" rx="2.7" ry="3.1" transform="rotate(30 1271.1 620.0)"/><ellipse cx="1271.1" cy="632.9" rx="2.7" ry="3.1" transform="rotate(30 1271.1 632.9)"/><ellipse cx="1271.1" cy="645.9" rx="2.7" ry="3.1" transform="rotate(30 1271.1 645.9)"/><ellipse cx="1271.1" cy="658.8" rx="2.7" ry="3.1" transform="rotate(30 1271.1 658.8)"/><ellipse cx="1271.1" cy="671.8" rx="2.7" ry="3.1" transform="rotate(30 1271.1 671.8)"/><ellipse cx="1271.1" cy="684.7" rx="2.7" ry="3.1" transform="rotate(30 1271.1 684.7)"/><ellipse cx="1271.1" cy="697.6" rx="2.7" ry="3.1" transform="rotate(30 1271.1 697.6)"/><ellipse cx="1271.1" cy="710.6" rx="2.7" ry="3.1" transform="rotate(30 1271.1 710.6)"/><ellipse cx="1271.1" cy="723.6" rx="2.7" ry="3.1" transform="rotate(30 1271.1 723.6)"/><ellipse cx="1271.1" cy="736.5" rx="2.7" ry="3.1" transform="rotate(30 1271.1 736.5)"/><ellipse cx="1271.1" cy="749.5" rx="2.7" ry="3.1" transform="rotate(30 1271.1 749.5)"/><ellipse cx="1271.1" cy="762.4" rx="2.7" ry="3.1" transform="rotate(30 1271.1 762.4)"/><ellipse cx="1271.1" cy="775.4" rx="2.7" ry="3.1" transform="rotate(30 1271.1 775.4)"/><ellipse cx="1271.1" cy="788.3" rx="2.7" ry="3.1" transform="rotate(30 1271.1 788.3)"/><ellipse cx="1271.1" cy="801.2" rx="2.7" ry="3.1" transform="rotate(30 1271.1 801.2)"/><ellipse cx="1271.1" cy="814.2" rx="2.7" ry="3.1" transform="rotate(30 1271.1 814.2)"/><ellipse cx="1271.1" cy="827.1" rx="2.7" ry="3.1" transform="rotate(30 1271.1 827.1)"/><ellipse cx="1271.1" cy="840.1" rx="2.7" ry="3.1" transform="rotate(30 1271.1 840.1)"/><ellipse cx="1271.1" cy="853.0" rx="2.7" ry="3.1" transform="rotate(30 1271.1 853.0)"/><ellipse cx="1271.1" cy="866.0" rx="2.7" ry="3.1" transform="rotate(30 1271.1 866.0)"/><ellipse cx="1271.1" cy="879.0" rx="2.7" ry="3.1" transform="rotate(30 1271.1 879.0)"/><ellipse cx="1271.1" cy="891.9" rx="2.7" ry="3.1" transform="rotate(30 1271.1 891.9)"/><ellipse cx="1271.1" cy="904.9" rx="2.7" ry="3.1" transform="rotate(30 1271.1 904.9)"/><ellipse cx="1271.1" cy="917.8" rx="2.7" ry="3.1" transform="rotate(30 1271.1 917.8)"/><ellipse cx="1271.1" cy="930.8" rx="2.7" ry="3.1" transform="rotate(30 1271.1 930.8)"/><ellipse cx="1271.1" cy="943.7" rx="2.7" ry="3.1" transform="rotate(30 1271.1 943.7)"/></g>
<path d="M1103.8,773.8 C1104.5,790 1106,800 1106.5,815 C1108,840 1110,855 1111.7,869.2" fill="none" stroke="#111" stroke-width="1.9" />
<path d="M218.3,764.9 L348.8,824 C358,828 372,840 381.1,858 C389,874 395,890 396,930 L396.7,1448 C396.5,1458 390,1462 379.5,1462.6 L347.7,1475.8 L228.5,1421 L230.4,898 C230.4,870 227,852 219.6,840.4 L195.6,830 C186,826 177,815 177.5,797 C178,780 192,762 218.3,764.9 Z" fill="#fff" stroke="#111" stroke-width="1.9" />
<path d="M195.6,830 L305,878.6" fill="none" stroke="#111" stroke-width="1.9" />
<path d="M346.3,840 C350,834 350.5,828 348.8,824 C344,818 336,818.5 329.7,819.1 C310,820 296,836 295.7,853.5 C295.5,872 310,888 329.7,889.1 C331,889 332.5,888.5 334,887.5" fill="none" stroke="#111" stroke-width="1.9" />
<path d="M346.3,841 C336,836.5 320,841 315.8,855 C313.5,866 321,876 333,883 C340,893 344.6,905 346.5,925 C347.3,940 347.7,960 347.7,1475.8" fill="none" stroke="#111" stroke-width="1.9" />
<path d="M346.3,841 C354,846 362.8,856 368,866 C374,878 377,895 378,916 C378.6,940 378.6,960 378.4,1464" fill="none" stroke="#111" stroke-width="1.9" />
<path d="M312.3,824.4 C318,830 323,834 327.2,839.8" fill="none" stroke="#111" stroke-width="1.6" />
<path d="M296.2,850.5 C302,853.5 309,854 315.6,852.2" fill="none" stroke="#111" stroke-width="1.6" />
<path d="M304.9,875.4 C309,875.5 314,874 319.8,871.3" fill="none" stroke="#111" stroke-width="1.6" />
<g fill="none" stroke="#111" stroke-width="2.2"><ellipse cx="326.4" cy="846.4" rx="2.7" ry="3.1" transform="rotate(30 326.4 846.4)"/><ellipse cx="320.6" cy="857.2" rx="2.7" ry="3.1" transform="rotate(30 320.6 857.2)"/><ellipse cx="326.4" cy="869.6" rx="2.7" ry="3.1" transform="rotate(30 326.4 869.6)"/><ellipse cx="334.3" cy="878.3" rx="2.7" ry="3.1" transform="rotate(30 334.3 878.3)"/><ellipse cx="339.7" cy="889.5" rx="2.7" ry="3.1" transform="rotate(30 339.7 889.5)"/><ellipse cx="344.2" cy="901.9" rx="2.7" ry="3.1" transform="rotate(30 344.2 901.9)"/><ellipse cx="347.9" cy="914.3" rx="2.7" ry="3.1" transform="rotate(30 347.9 914.3)"/><ellipse cx="348.8" cy="925.9" rx="2.7" ry="3.1" transform="rotate(30 348.8 925.9)"/><ellipse cx="351.2" cy="937.5" rx="2.7" ry="3.1" transform="rotate(30 351.2 937.5)"/><ellipse cx="352.1" cy="950.8" rx="2.7" ry="3.1" transform="rotate(30 352.1 950.8)"/><ellipse cx="352.6" cy="966.0" rx="2.7" ry="3.1" transform="rotate(30 352.6 966.0)"/><ellipse cx="352.6" cy="978.9" rx="2.7" ry="3.1" transform="rotate(30 352.6 978.9)"/><ellipse cx="352.6" cy="991.7" rx="2.7" ry="3.1" transform="rotate(30 352.6 991.7)"/><ellipse cx="352.6" cy="1004.6" rx="2.7" ry="3.1" transform="rotate(30 352.6 1004.6)"/><ellipse cx="352.6" cy="1017.5" rx="2.7" ry="3.1" transform="rotate(30 352.6 1017.5)"/><ellipse cx="352.6" cy="1030.3" rx="2.7" ry="3.1" transform="rotate(30 352.6 1030.3)"/><ellipse cx="352.6" cy="1043.2" rx="2.7" ry="3.1" transform="rotate(30 352.6 1043.2)"/><ellipse cx="352.6" cy="1056.1" rx="2.7" ry="3.1" transform="rotate(30 352.6 1056.1)"/><ellipse cx="352.6" cy="1069.0" rx="2.7" ry="3.1" transform="rotate(30 352.6 1069.0)"/><ellipse cx="352.6" cy="1081.8" rx="2.7" ry="3.1" transform="rotate(30 352.6 1081.8)"/><ellipse cx="352.6" cy="1094.7" rx="2.7" ry="3.1" transform="rotate(30 352.6 1094.7)"/><ellipse cx="352.6" cy="1107.6" rx="2.7" ry="3.1" transform="rotate(30 352.6 1107.6)"/><ellipse cx="352.6" cy="1120.4" rx="2.7" ry="3.1" transform="rotate(30 352.6 1120.4)"/><ellipse cx="352.6" cy="1133.3" rx="2.7" ry="3.1" transform="rotate(30 352.6 1133.3)"/><ellipse cx="352.6" cy="1146.2" rx="2.7" ry="3.1" transform="rotate(30 352.6 1146.2)"/><ellipse cx="352.6" cy="1159.0" rx="2.7" ry="3.1" transform="rotate(30 352.6 1159.0)"/><ellipse cx="352.6" cy="1171.9" rx="2.7" ry="3.1" transform="rotate(30 352.6 1171.9)"/><ellipse cx="352.6" cy="1184.8" rx="2.7" ry="3.1" transform="rotate(30 352.6 1184.8)"/><ellipse cx="352.6" cy="1197.7" rx="2.7" ry="3.1" transform="rotate(30 352.6 1197.7)"/><ellipse cx="352.6" cy="1210.5" rx="2.7" ry="3.1" transform="rotate(30 352.6 1210.5)"/><ellipse cx="352.6" cy="1223.4" rx="2.7" ry="3.1" transform="rotate(30 352.6 1223.4)"/><ellipse cx="352.6" cy="1236.3" rx="2.7" ry="3.1" transform="rotate(30 352.6 1236.3)"/><ellipse cx="352.6" cy="1249.1" rx="2.7" ry="3.1" transform="rotate(30 352.6 1249.1)"/><ellipse cx="352.6" cy="1262.0" rx="2.7" ry="3.1" transform="rotate(30 352.6 1262.0)"/><ellipse cx="352.6" cy="1274.9" rx="2.7" ry="3.1" transform="rotate(30 352.6 1274.9)"/><ellipse cx="352.6" cy="1287.7" rx="2.7" ry="3.1" transform="rotate(30 352.6 1287.7)"/><ellipse cx="352.6" cy="1300.6" rx="2.7" ry="3.1" transform="rotate(30 352.6 1300.6)"/><ellipse cx="352.6" cy="1313.5" rx="2.7" ry="3.1" transform="rotate(30 352.6 1313.5)"/><ellipse cx="352.6" cy="1326.3" rx="2.7" ry="3.1" transform="rotate(30 352.6 1326.3)"/><ellipse cx="352.6" cy="1339.2" rx="2.7" ry="3.1" transform="rotate(30 352.6 1339.2)"/><ellipse cx="352.6" cy="1352.1" rx="2.7" ry="3.1" transform="rotate(30 352.6 1352.1)"/><ellipse cx="352.6" cy="1365.0" rx="2.7" ry="3.1" transform="rotate(30 352.6 1365.0)"/><ellipse cx="352.6" cy="1377.8" rx="2.7" ry="3.1" transform="rotate(30 352.6 1377.8)"/><ellipse cx="352.6" cy="1390.7" rx="2.7" ry="3.1" transform="rotate(30 352.6 1390.7)"/><ellipse cx="352.6" cy="1403.6" rx="2.7" ry="3.1" transform="rotate(30 352.6 1403.6)"/><ellipse cx="352.6" cy="1416.4" rx="2.7" ry="3.1" transform="rotate(30 352.6 1416.4)"/><ellipse cx="352.6" cy="1429.3" rx="2.7" ry="3.1" transform="rotate(30 352.6 1429.3)"/><ellipse cx="352.6" cy="1442.2" rx="2.7" ry="3.1" transform="rotate(30 352.6 1442.2)"/><ellipse cx="352.6" cy="1455.0" rx="2.7" ry="3.1" transform="rotate(30 352.6 1455.0)"/><ellipse cx="352.6" cy="1467.9" rx="2.7" ry="3.1" transform="rotate(30 352.6 1467.9)"/><ellipse cx="340.5" cy="846.4" rx="2.7" ry="3.1" transform="rotate(30 340.5 846.4)"/><ellipse cx="351.7" cy="855.5" rx="2.7" ry="3.1" transform="rotate(30 351.7 855.5)"/><ellipse cx="361.2" cy="866.3" rx="2.7" ry="3.1" transform="rotate(30 361.2 866.3)"/><ellipse cx="367.4" cy="879.5" rx="2.7" ry="3.1" transform="rotate(30 367.4 879.5)"/><ellipse cx="372.0" cy="895.3" rx="2.7" ry="3.1" transform="rotate(30 372.0 895.3)"/><ellipse cx="373.2" cy="910.2" rx="2.7" ry="3.1" transform="rotate(30 373.2 910.2)"/><ellipse cx="373.6" cy="925.1" rx="2.7" ry="3.1" transform="rotate(30 373.6 925.1)"/><ellipse cx="373.6" cy="940.8" rx="2.7" ry="3.1" transform="rotate(30 373.6 940.8)"/><ellipse cx="373.6" cy="955.8" rx="2.7" ry="3.1" transform="rotate(30 373.6 955.8)"/><ellipse cx="373.3" cy="969.4" rx="2.7" ry="3.1" transform="rotate(30 373.3 969.4)"/><ellipse cx="373.3" cy="982.3" rx="2.7" ry="3.1" transform="rotate(30 373.3 982.3)"/><ellipse cx="373.3" cy="995.2" rx="2.7" ry="3.1" transform="rotate(30 373.3 995.2)"/><ellipse cx="373.3" cy="1008.1" rx="2.7" ry="3.1" transform="rotate(30 373.3 1008.1)"/><ellipse cx="373.3" cy="1021.0" rx="2.7" ry="3.1" transform="rotate(30 373.3 1021.0)"/><ellipse cx="373.3" cy="1033.9" rx="2.7" ry="3.1" transform="rotate(30 373.3 1033.9)"/><ellipse cx="373.3" cy="1046.8" rx="2.7" ry="3.1" transform="rotate(30 373.3 1046.8)"/><ellipse cx="373.3" cy="1059.7" rx="2.7" ry="3.1" transform="rotate(30 373.3 1059.7)"/><ellipse cx="373.3" cy="1072.6" rx="2.7" ry="3.1" transform="rotate(30 373.3 1072.6)"/><ellipse cx="373.3" cy="1085.5" rx="2.7" ry="3.1" transform="rotate(30 373.3 1085.5)"/><ellipse cx="373.3" cy="1098.4" rx="2.7" ry="3.1" transform="rotate(30 373.3 1098.4)"/><ellipse cx="373.3" cy="1111.3" rx="2.7" ry="3.1" transform="rotate(30 373.3 1111.3)"/><ellipse cx="373.3" cy="1124.2" rx="2.7" ry="3.1" transform="rotate(30 373.3 1124.2)"/><ellipse cx="373.3" cy="1137.1" rx="2.7" ry="3.1" transform="rotate(30 373.3 1137.1)"/><ellipse cx="373.3" cy="1150.0" rx="2.7" ry="3.1" transform="rotate(30 373.3 1150.0)"/><ellipse cx="373.3" cy="1162.9" rx="2.7" ry="3.1" transform="rotate(30 373.3 1162.9)"/><ellipse cx="373.3" cy="1175.8" rx="2.7" ry="3.1" transform="rotate(30 373.3 1175.8)"/><ellipse cx="373.3" cy="1188.7" rx="2.7" ry="3.1" transform="rotate(30 373.3 1188.7)"/><ellipse cx="373.3" cy="1201.6" rx="2.7" ry="3.1" transform="rotate(30 373.3 1201.6)"/><ellipse cx="373.3" cy="1214.5" rx="2.7" ry="3.1" transform="rotate(30 373.3 1214.5)"/><ellipse cx="373.3" cy="1227.4" rx="2.7" ry="3.1" transform="rotate(30 373.3 1227.4)"/><ellipse cx="373.3" cy="1240.3" rx="2.7" ry="3.1" transform="rotate(30 373.3 1240.3)"/><ellipse cx="373.3" cy="1253.2" rx="2.7" ry="3.1" transform="rotate(30 373.3 1253.2)"/><ellipse cx="373.3" cy="1266.1" rx="2.7" ry="3.1" transform="rotate(30 373.3 1266.1)"/><ellipse cx="373.3" cy="1279.0" rx="2.7" ry="3.1" transform="rotate(30 373.3 1279.0)"/><ellipse cx="373.3" cy="1291.9" rx="2.7" ry="3.1" transform="rotate(30 373.3 1291.9)"/><ellipse cx="373.3" cy="1304.8" rx="2.7" ry="3.1" transform="rotate(30 373.3 1304.8)"/><ellipse cx="373.3" cy="1317.7" rx="2.7" ry="3.1" transform="rotate(30 373.3 1317.7)"/><ellipse cx="373.3" cy="1330.6" rx="2.7" ry="3.1" transform="rotate(30 373.3 1330.6)"/><ellipse cx="373.3" cy="1343.5" rx="2.7" ry="3.1" transform="rotate(30 373.3 1343.5)"/><ellipse cx="373.3" cy="1356.4" rx="2.7" ry="3.1" transform="rotate(30 373.3 1356.4)"/><ellipse cx="373.3" cy="1369.3" rx="2.7" ry="3.1" transform="rotate(30 373.3 1369.3)"/><ellipse cx="373.3" cy="1382.2" rx="2.7" ry="3.1" transform="rotate(30 373.3 1382.2)"/><ellipse cx="373.3" cy="1395.1" rx="2.7" ry="3.1" transform="rotate(30 373.3 1395.1)"/><ellipse cx="373.3" cy="1408.0" rx="2.7" ry="3.1" transform="rotate(30 373.3 1408.0)"/><ellipse cx="373.3" cy="1420.9" rx="2.7" ry="3.1" transform="rotate(30 373.3 1420.9)"/><ellipse cx="373.3" cy="1433.8" rx="2.7" ry="3.1" transform="rotate(30 373.3 1433.8)"/><ellipse cx="373.3" cy="1446.7" rx="2.7" ry="3.1" transform="rotate(30 373.3 1446.7)"/><ellipse cx="373.3" cy="1459.6" rx="2.7" ry="3.1" transform="rotate(30 373.3 1459.6)"/></g>
<path d="M1096.5,876.5 L1111.7,869.2 L1925.5,1251.9 L1909.6,1258.5 L1787.7,1314.1 L1161,1022.2 L1124.7,996.8 L1095.8,984.7 Z" fill="#fff" stroke="#111" stroke-width="0" />
<line x1="1111.7" y1="869.2" x2="1925.5" y2="1251.9" stroke="#111" stroke-width="2.0" />
<line x1="1096.5" y1="878.8" x2="1909.6" y2="1258.5" stroke="#111" stroke-width="2.0" />
<line x1="1096.5" y1="876.5" x2="1111.7" y2="869.2" stroke="#111" stroke-width="2.0" />
<line x1="1096.5" y1="876.5" x2="1096.5" y2="984.7" stroke="#111" stroke-width="2.0" />
<line x1="1095.8" y1="984.7" x2="1124.7" y2="996.8" stroke="#111" stroke-width="2.0" />
<ellipse cx="1127" cy="926.8" rx="5.6" ry="7.4" transform="rotate(-28 1127 926.8)" fill="#fff" stroke="#111" stroke-width="2.6"/>
<ellipse cx="1126.2" cy="925.3" rx="2.2" ry="3.2" transform="rotate(-28 1127 926.8)" fill="#fff" stroke="#111" stroke-width="1.6"/>
<ellipse cx="1127" cy="965.3" rx="5.6" ry="7.4" transform="rotate(-28 1127 965.3)" fill="#fff" stroke="#111" stroke-width="2.6"/>
<ellipse cx="1126.2" cy="963.8" rx="2.2" ry="3.2" transform="rotate(-28 1127 965.3)" fill="#fff" stroke="#111" stroke-width="1.6"/>
<path d="M1104.7,988.4 L1104.7,1013.6 L1115.4,1017.3" fill="none" stroke="#111" stroke-width="2.0" />
<path d="M1124.7,992.6 L1133.6,988.9 L1156.4,999.6" fill="none" stroke="#111" stroke-width="2.0" />
<path d="M1124.7,992.6 L1125.2,1005.2 L1133.1,1009.9" fill="none" stroke="#111" stroke-width="2.0" />
<line x1="1127.5" y1="994.0" x2="1149.0" y2="1004.5" stroke="#111" stroke-width="2.0" />
<line x1="1181.6" y1="1011.7" x2="1807.7" y2="1305.2" stroke="#111" stroke-width="2.0" />
<line x1="1176.9" y1="1015.9" x2="1800.0" y2="1308.3" stroke="#111" stroke-width="2.0" />
<line x1="1161.0" y1="1022.2" x2="1786.8" y2="1314.5" stroke="#111" stroke-width="2.0" />
<path d="M1144.3,1030.8 L1228.1,1070.4 L1228.1,1054" fill="none" stroke="#111" stroke-width="2.0" />
<path d="M1228.1,1070.4 C1234,1071 1241,1068 1244.9,1063" fill="none" stroke="#111" stroke-width="1.6" />
<path d="M450.6,1328.3 L1163.6,995.7 L1179.5,1006.3 L1180.8,1011.6 L475.8,1341.6 Z" fill="#fff" stroke="#111" stroke-width="0" />
<line x1="450.6" y1="1328.3" x2="1163.6" y2="995.7" stroke="#111" stroke-width="2.0" />
<line x1="469.1" y1="1336.3" x2="1179.5" y2="1006.3" stroke="#111" stroke-width="2.0" />
<line x1="475.8" y1="1341.6" x2="1180.8" y2="1011.6" stroke="#111" stroke-width="2.0" />
<path d="M1163.6,995.7 L1179.5,1006.3 L1180.8,1011.6" fill="none" stroke="#111" stroke-width="2.0" />
<ellipse cx="663.4" cy="1237.7" rx="2.8" ry="2.0" fill="#111"/>
<ellipse cx="951" cy="1103.5" rx="2.8" ry="2.0" fill="#111"/>
<ellipse cx="1168" cy="1002.4" rx="2.8" ry="2.0" fill="#111"/>
<path d="M652.0,1261.1 L652.0,1287.2 L662.6,1291.2 L674.5,1287.2 L674.5,1250.6" fill="#fff" stroke="#111" stroke-width="1.7" />
<line x1="662.6" y1="1257.2" x2="662.6" y2="1291.2" stroke="#111" stroke-width="1.7" />
<path d="M940.4,1126.1 L940.4,1152.2 L951.0,1156.2 L962.9,1152.2 L962.9,1115.6" fill="#fff" stroke="#111" stroke-width="1.7" />
<line x1="951.0" y1="1122.2" x2="951.0" y2="1156.2" stroke="#111" stroke-width="1.7" />
<path d="M725.3,1457.3 L1431.2,1126.9 L1456.4,1133.5 L1456.4,1138.8 L750.5,1470.5 Z" fill="#fff" stroke="#111" stroke-width="0" />
<line x1="725.3" y1="1457.3" x2="1431.2" y2="1126.9" stroke="#111" stroke-width="2.0" />
<line x1="741.2" y1="1465.2" x2="1456.4" y2="1133.5" stroke="#111" stroke-width="2.0" />
<line x1="750.5" y1="1470.5" x2="1456.4" y2="1138.8" stroke="#111" stroke-width="2.0" />
<path d="M1431.2,1126.9 L1456.4,1133.5 L1456.4,1138.8" fill="none" stroke="#111" stroke-width="2.0" />
<ellipse cx="937.6" cy="1366" rx="2.8" ry="2.0" fill="#111"/>
<ellipse cx="1227" cy="1231" rx="2.8" ry="2.0" fill="#111"/>
<ellipse cx="1441.8" cy="1129.5" rx="2.8" ry="2.0" fill="#111"/>
<path d="M926.6,1389.8 L926.6,1415.8 L937.2,1419.8 L949.1,1415.8 L949.1,1379.2" fill="#fff" stroke="#111" stroke-width="1.7" />
<line x1="937.2" y1="1385.8" x2="937.2" y2="1419.8" stroke="#111" stroke-width="1.7" />
<path d="M1216.6,1253.5 L1216.6,1279.5 L1227.2,1283.5 L1239.1,1279.5 L1239.1,1242.9" fill="#fff" stroke="#111" stroke-width="1.7" />
<line x1="1227.2" y1="1249.5" x2="1227.2" y2="1283.5" stroke="#111" stroke-width="1.7" />
<path d="M835,1510.4 L1547.6,1177.4 L1568.3,1186.8 L1566.3,1191.9 L856,1522 Z" fill="#fff" stroke="#111" stroke-width="0" />
<line x1="835.0" y1="1510.4" x2="1547.6" y2="1177.4" stroke="#111" stroke-width="2.0" />
<line x1="850.0" y1="1517.0" x2="1568.3" y2="1186.8" stroke="#111" stroke-width="2.0" />
<line x1="856.0" y1="1522.0" x2="1566.3" y2="1191.9" stroke="#111" stroke-width="2.0" />
<path d="M1547.6,1177.4 L1568.3,1186.8 L1566.3,1191.9" fill="none" stroke="#111" stroke-width="2.0" />
<ellipse cx="1049" cy="1418.4" rx="2.8" ry="2.0" fill="#111"/>
<ellipse cx="1337.6" cy="1283" rx="2.8" ry="2.0" fill="#111"/>
<ellipse cx="1554.5" cy="1183" rx="2.8" ry="2.0" fill="#111"/>
<path d="M1038.7,1439.1 L1038.7,1465.2 L1049.3,1469.2 L1061.2,1465.2 L1061.2,1428.6" fill="#fff" stroke="#111" stroke-width="1.7" />
<line x1="1049.3" y1="1435.2" x2="1049.3" y2="1469.2" stroke="#111" stroke-width="1.7" />
<path d="M1328.4,1304.5 L1328.4,1330.5 L1339.0,1334.5 L1350.9,1330.5 L1350.9,1294.0" fill="#fff" stroke="#111" stroke-width="1.7" />
<line x1="1339.0" y1="1300.5" x2="1339.0" y2="1334.5" stroke="#111" stroke-width="1.7" />
<path d="M396.7,1307.6 L1102.4,1634.4 L1086.5,1641.3 L1086.5,1747.7 L1079.5,1746.7 L388.8,1425.5 C386.5,1390 386.5,1350 390.1,1318.2 Z" fill="#fff" stroke="#111" stroke-width="0" />
<line x1="396.7" y1="1307.6" x2="1102.4" y2="1634.4" stroke="#111" stroke-width="2.0" />
<line x1="390.1" y1="1318.2" x2="1086.5" y2="1641.3" stroke="#111" stroke-width="2.0" />
<line x1="388.8" y1="1425.5" x2="1079.5" y2="1746.7" stroke="#111" stroke-width="2.0" />
<line x1="390.1" y1="1318.2" x2="396.7" y2="1307.6" stroke="#111" stroke-width="2.0" />
<path d="M390.1,1318.2 C386.5,1350 386.5,1390 388.8,1425.5" fill="none" stroke="#111" stroke-width="1.6" />
<path d="M1102.4,1634.4 L1925.5,1251.9 L1962.6,1266.4 L1962.6,1373.8 L1121.2,1764.6 L1086.5,1747.7 L1086.5,1641.3 Z" fill="#fff" stroke="#111" stroke-width="0" />
<line x1="1102.4" y1="1634.4" x2="1925.5" y2="1251.9" stroke="#111" stroke-width="2.0" />
<line x1="1121.2" y1="1658.2" x2="1962.6" y2="1266.4" stroke="#111" stroke-width="2.0" />
<line x1="1121.2" y1="1764.6" x2="1962.6" y2="1373.8" stroke="#111" stroke-width="2.0" />
<line x1="1925.5" y1="1251.9" x2="1962.6" y2="1266.4" stroke="#111" stroke-width="2.0" />
<line x1="1962.6" y1="1266.4" x2="1962.6" y2="1373.8" stroke="#111" stroke-width="2.0" />
<line x1="1086.5" y1="1641.3" x2="1086.5" y2="1747.7" stroke="#111" stroke-width="2.0" />
<line x1="1121.2" y1="1658.2" x2="1121.2" y2="1764.6" stroke="#111" stroke-width="2.0" />
<line x1="1086.5" y1="1641.3" x2="1102.4" y2="1634.4" stroke="#111" stroke-width="2.0" />
<line x1="1087.5" y1="1642.0" x2="1121.2" y2="1658.2" stroke="#111" stroke-width="2.0" />
<path d="M1077.5,1746.7 C1086,1752 1093.4,1762.6 1099.4,1780.5 L1121.2,1790.4 L1143.1,1780.5 C1147,1768 1154,1755 1165,1746.7 L1121.2,1765.6 Z" fill="#fff" stroke="#111" stroke-width="0" />
<path d="M1077.5,1746.7 C1086,1752 1093.4,1762.6 1099.4,1780.5 L1121.2,1790.4 L1143.1,1780.5 C1147,1768 1154,1755 1165,1746.7" fill="none" stroke="#111" stroke-width="2.0" />
<path d="M1086.5,1749 L1121.2,1765.6 L1165,1746.7" fill="none" stroke="#111" stroke-width="2.0" />
<line x1="1121.2" y1="1765.6" x2="1121.2" y2="1790.4" stroke="#111" stroke-width="2.0" />
<path d="M1909.6,1400.3 C1915,1402 1921,1406 1926.8,1413.5 L1952,1404.2 L1952,1381.7" fill="#fff" stroke="#111" stroke-width="2.0" />
<line x1="180.7" y1="231.6" x2="180.7" y2="777.0" stroke="#111" stroke-width="2.6" stroke-dasharray="5.6,3.8"/>
<line x1="1175.0" y1="230.0" x2="1175.0" y2="323.5" stroke="#111" stroke-width="2.6" stroke-dasharray="5.6,3.8"/>
<line x1="228.5" y1="1424.0" x2="228.5" y2="2004.6" stroke="#111" stroke-width="2.6" stroke-dasharray="5.6,3.8"/>
<line x1="347.7" y1="1479.0" x2="347.7" y2="1899.0" stroke="#111" stroke-width="2.6" stroke-dasharray="5.6,3.8"/>
<line x1="1097.8" y1="1784.0" x2="1097.8" y2="1900.4" stroke="#111" stroke-width="2.6" stroke-dasharray="5.6,3.8"/>
<line x1="1120.3" y1="1793.0" x2="1120.3" y2="2002.9" stroke="#111" stroke-width="2.6" stroke-dasharray="5.6,3.8"/>
<line x1="1146.9" y1="1783.0" x2="1146.9" y2="1892.4" stroke="#111" stroke-width="2.6" stroke-dasharray="5.6,3.8"/>
<line x1="1927.0" y1="1416.0" x2="1927.0" y2="1903.8" stroke="#111" stroke-width="2.6" stroke-dasharray="5.6,3.8"/>
<line x1="1951.8" y1="1406.0" x2="1951.8" y2="2002.3" stroke="#111" stroke-width="2.6" stroke-dasharray="5.6,3.8"/>
<line x1="203.0" y1="259.0" x2="623.0" y2="259.0" stroke="#111" stroke-width="2.4" />
<line x1="756.5" y1="259.0" x2="1152.0" y2="259.0" stroke="#111" stroke-width="2.4" />
<path d="M185.7,259.0 L205.5,249.0 L205.5,269.0 Z" fill="#1a1a1a" stroke="none"/>
<path d="M1170.0,259.0 L1150.0,249.0 L1150.0,269.0 Z" fill="#1a1a1a" stroke="none"/>
<line x1="136.3" y1="786.0" x2="136.3" y2="1026.5" stroke="#111" stroke-width="2.4" />
<line x1="136.3" y1="1084.1" x2="136.3" y2="1405.0" stroke="#111" stroke-width="2.4" />
<path d="M136.3,768.0 L126.3,788.0 L146.3,788.0 Z" fill="#1a1a1a" stroke="none"/>
<path d="M136.3,1424.0 L126.3,1403.8 L146.3,1403.8 Z" fill="#1a1a1a" stroke="none"/>
<line x1="1081.5" y1="823.0" x2="1081.5" y2="1015.0" stroke="#111" stroke-width="2.4" />
<path d="M1081.5,806.3 L1071.5,824.8 L1091.5,824.8 Z" fill="#1a1a1a" stroke="none"/>
<path d="M1081.5,1033.2 L1071.5,1013.6 L1091.5,1013.6 Z" fill="#1a1a1a" stroke="none"/>
<line x1="405.0" y1="1116.5" x2="1084.6" y2="798.3" stroke="#111" stroke-width="2.4" />
<path d="M399.8,1118.6 L421.0,1118.6 L414.4,1102.8 Z" fill="#1a1a1a" stroke="none"/>
<path d="M1081.9,789.0 L1103.8,788.4 L1091.8,805.6 Z" fill="#1a1a1a" stroke="none"/>
<line x1="1443.1" y1="1062.0" x2="1443.1" y2="1107.0" stroke="#111" stroke-width="2.4" />
<path d="M1443.1,1043.4 L1433.1,1064.6 L1453.1,1064.6 Z" fill="#1a1a1a" stroke="none"/>
<path d="M1443.1,1124.2 L1433.1,1105.7 L1453.1,1105.7 Z" fill="#1a1a1a" stroke="none"/>
<line x1="1740.2" y1="993.2" x2="1522.0" y2="1196.5" stroke="#111" stroke-width="3.2" />
<path d="M1513.5,1204.3 L1522.8,1185.7 L1534.2,1198.1 Z" fill="#1a1a1a" stroke="none"/>
<line x1="1094.1" y1="1436.0" x2="1094.1" y2="1454.0" stroke="#111" stroke-width="2.4" />
<path d="M1094.1,1418.4 L1084.1,1438.3 L1104.1,1438.3 Z" fill="#1a1a1a" stroke="none"/>
<path d="M1094.1,1471.4 L1084.1,1452.2 L1104.1,1452.2 Z" fill="#1a1a1a" stroke="none"/>
<line x1="1199.8" y1="1755.0" x2="1199.8" y2="1769.0" stroke="#111" stroke-width="2.4" />
<path d="M1199.8,1737.7 L1189.3,1756.6 L1210.3,1756.6 Z" fill="#1a1a1a" stroke="none"/>
<path d="M1199.8,1787.4 L1189.3,1767.6 L1210.3,1767.6 Z" fill="#1a1a1a" stroke="none"/>
<line x1="369.0" y1="1873.0" x2="648.0" y2="1873.0" stroke="#111" stroke-width="2.4" />
<line x1="793.9" y1="1873.0" x2="1077.0" y2="1873.0" stroke="#111" stroke-width="2.4" />
<path d="M350.1,1873.0 L370.8,1863.0 L370.8,1883.0 Z" fill="#1a1a1a" stroke="none"/>
<path d="M1095.8,1873.0 L1075.3,1863.0 L1075.3,1883.0 Z" fill="#1a1a1a" stroke="none"/>
<line x1="252.0" y1="1966.3" x2="645.9" y2="1966.3" stroke="#111" stroke-width="2.4" />
<line x1="788.2" y1="1966.3" x2="1101.0" y2="1966.3" stroke="#111" stroke-width="2.4" />
<path d="M233.1,1966.3 L253.8,1956.3 L253.8,1976.3 Z" fill="#1a1a1a" stroke="none"/>
<path d="M1118.6,1966.3 L1099.2,1956.3 L1099.2,1976.3 Z" fill="#1a1a1a" stroke="none"/>
<line x1="1169.0" y1="1873.0" x2="1444.3" y2="1873.0" stroke="#111" stroke-width="2.4" />
<line x1="1609.6" y1="1873.0" x2="1904.0" y2="1873.0" stroke="#111" stroke-width="2.4" />
<path d="M1149.3,1873.0 L1171.0,1863.0 L1171.0,1883.0 Z" fill="#1a1a1a" stroke="none"/>
<path d="M1924.0,1873.0 L1902.3,1863.0 L1902.3,1883.0 Z" fill="#1a1a1a" stroke="none"/>
<line x1="1143.0" y1="1966.2" x2="1446.6" y2="1966.2" stroke="#111" stroke-width="2.4" />
<line x1="1609.6" y1="1966.2" x2="1930.0" y2="1966.2" stroke="#111" stroke-width="2.4" />
<path d="M1123.1,1966.2 L1144.8,1956.2 L1144.8,1976.2 Z" fill="#1a1a1a" stroke="none"/>
<path d="M1950.1,1966.2 L1928.4,1956.2 L1928.4,1976.2 Z" fill="#1a1a1a" stroke="none"/>
<g font-family="Liberation Sans, sans-serif" font-weight="bold" fill="#111">
<text x="791.5" y="77" font-size="42" textLength="596" lengthAdjust="spacingAndGlyphs">Inner Size : 76.50"W X 81.00"D</text>
<rect x="631.0" y="231.0" width="121.0" height="46" fill="#fff"/>
<text x="638.5" y="269.0" font-size="37.7" textLength="108.0" lengthAdjust="spacingAndGlyphs">96.25"</text>
<rect x="74.5" y="1032.0" width="121.7" height="46" fill="#fff"/>
<text x="82.0" y="1070.0" font-size="37.7" textLength="108.7" lengthAdjust="spacingAndGlyphs">66.25"</text>
<rect x="958.3" y="896.1" width="120.0" height="46" fill="#fff"/>
<text x="965.8" y="934.1" font-size="37.7" textLength="107.0" lengthAdjust="spacingAndGlyphs">18.00"</text>
<rect x="495.5" y="1075.4" width="121.3" height="46" fill="#fff"/>
<text x="503.0" y="1113.4" font-size="37.7" textLength="108.3" lengthAdjust="spacingAndGlyphs">78.75"</text>
<rect x="1455.3" y="1061.1" width="101.5" height="46" fill="#fff"/>
<text x="1462.8" y="1099.1" font-size="37.7" textLength="88.5" lengthAdjust="spacingAndGlyphs">6.00"</text>
<rect x="1729.1" y="942.7" width="125.6" height="46" fill="#fff"/>
<text x="1736.6" y="980.7" font-size="37.7" textLength="112.6" lengthAdjust="spacingAndGlyphs">76.50"</text>
<rect x="1102.3" y="1414.9" width="98.8" height="46" fill="#fff"/>
<text x="1109.8" y="1452.9" font-size="37.7" textLength="85.8" lengthAdjust="spacingAndGlyphs">5.50"</text>
<rect x="1208.7" y="1735.5" width="101.4" height="46" fill="#fff"/>
<text x="1216.2" y="1773.5" font-size="37.7" textLength="88.4" lengthAdjust="spacingAndGlyphs">2.75"</text>
<rect x="658.1" y="1846.5" width="121.0" height="46" fill="#fff"/>
<text x="665.6" y="1884.5" font-size="37.7" textLength="108.0" lengthAdjust="spacingAndGlyphs">70.75"</text>
<rect x="658.1" y="1941.8" width="121.0" height="46" fill="#fff"/>
<text x="665.6" y="1979.8" font-size="37.7" textLength="108.0" lengthAdjust="spacingAndGlyphs">85.75"</text>
<rect x="1465.8" y="1846.9" width="120.9" height="46" fill="#fff"/>
<text x="1473.3" y="1884.9" font-size="37.7" textLength="107.9" lengthAdjust="spacingAndGlyphs">74.25"</text>
<rect x="1465.8" y="1939.7" width="120.9" height="46" fill="#fff"/>
<text x="1473.3" y="1977.7" font-size="37.7" textLength="107.9" lengthAdjust="spacingAndGlyphs">79.00"</text>
</g></svg></body></html>
